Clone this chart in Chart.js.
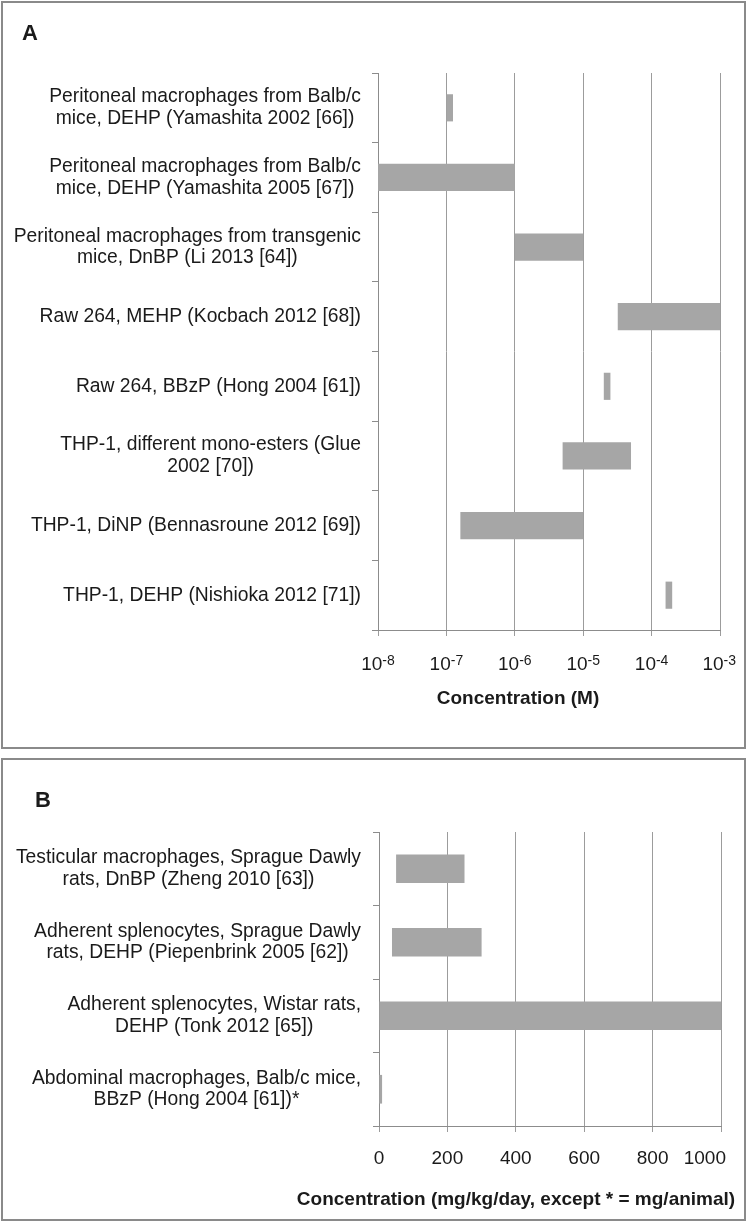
<!DOCTYPE html>
<html>
<head>
<meta charset="utf-8">
<script src="https://cdn.jsdelivr.net/npm/chart.js@4.4.1/dist/chart.umd.min.js"></script>
<style>
  body { margin: 0; background: #fff; }
  .box { position: absolute; left: 1px; width: 741px; border: 2px solid #8a8a8a; background: #fff; }
  #boxA { top: 1px; height: 744px; }
  #boxB { top: 758px; height: 459px; }
  canvas { display: block; }
</style>
</head>
<body>
<div class="box" id="boxA"><canvas id="chartA" width="741" height="744"></canvas></div>
<div class="box" id="boxB"><canvas id="chartB" width="741" height="459"></canvas></div>
<script>
// panel A - in vitro (M)
var labelsA = [
  ['Peritoneal macrophages from Balb/c', 'mice, DEHP (Yamashita 2002 [66])'],
  ['Peritoneal macrophages from Balb/c', 'mice, DEHP (Yamashita 2005 [67])'],
  ['Peritoneal macrophages from transgenic', 'mice, DnBP (Li 2013 [64])'],
  ['Raw 264, MEHP (Kocbach 2012 [68])'],
  ['Raw 264, BBzP (Hong 2004 [61])'],
  ['THP-1, different mono-esters (Glue', '2002 [70])'],
  ['THP-1, DiNP (Bennasroune 2012 [69])'],
  ['THP-1, DEHP (Nishioka 2012 [71])']
];
var lowA  = [1e-7, 1e-8, 1e-6, 3.2e-5, 2e-5, 5e-6, 1.6e-7, 1.6e-4];
var highA = [1.25e-7, 1e-6, 1e-5, 1e-3, 2.5e-5, 5e-5, 1e-5, 2e-4];
var xTicksA = [1e-8, 1e-7, 1e-6, 1e-5, 1e-4, 1e-3];
var tickExpA = ['-8', '-7', '-6', '-5', '-4', '-3'];

// panel B - in vivo
var labelsB = [
  ['Testicular macrophages, Sprague Dawly', 'rats, DnBP (Zheng 2010 [63])'],
  ['Adherent splenocytes, Sprague Dawly', 'rats, DEHP (Piepenbrink 2005 [62])'],
  ['Adherent splenocytes, Wistar rats,', 'DEHP (Tonk 2012 [65])'],
  ['Abdominal macrophages, Balb/c mice,', 'BBzP (Hong 2004 [61])*']
];
var lowB  = [50, 38, 0, 1];
var highB = [250, 300, 1000, 9];
var xTicksB = [0, 200, 400, 600, 800, 1000];
var tickLabelsB = ['0', '200', '400', '600', '800', '1000'];

var FONT = '"Liberation Sans", Arial, sans-serif';

// draws the excel-like texts (wrapped centred category labels, superscript ticks, titles)
var panelText = {
  id: 'panelText',
  afterDraw: function(chart, args, opts) {
    var ctx = chart.ctx;
    var xs = chart.scales.x, ys = chart.scales.y;
    var area = chart.chartArea;
    ctx.save();
    ctx.fillStyle = '#1a1a1a';

    ctx.font = 'bold 22px ' + FONT;
    ctx.textAlign = 'left';
    ctx.textBaseline = 'alphabetic';
    ctx.fillText(opts.letter, opts.letterX, opts.letterY);

    ctx.font = '19.3px ' + FONT;
    ctx.textAlign = 'center';
    ctx.textBaseline = 'middle';
    chart.data.labels.forEach(function(lines, i) {
      var yc = ys.getPixelForValue(i);
      var w = Math.max.apply(null, lines.map(function(l) { return ctx.measureText(l).width; }));
      var cx = opts.labelRight - w / 2;
      lines.forEach(function(l, k) {
        ctx.fillText(l, cx, yc + (k - (lines.length - 1) / 2) * 21.7);
      });
    });

    ctx.textBaseline = 'alphabetic';
    ctx.textAlign = 'left';
    var base = area.bottom + opts.tickDy;
    xs.ticks.forEach(function(t, i) {
      var px = xs.getPixelForValue(t.value);
      var w1, w2 = 0, main, sup = '';
      if (opts.tickExp) { main = '10'; sup = opts.tickExp[i]; }
      else { main = opts.tickLabels[i]; }
      ctx.font = '19px ' + FONT;
      w1 = ctx.measureText(main).width;
      if (sup) { ctx.font = '14px ' + FONT; w2 = ctx.measureText(sup).width; }
      // keep the last label inside the frame like excel does
      var x0 = Math.min(px - (w1 + w2) / 2, opts.maxRight - (w1 + w2));
      ctx.font = '19px ' + FONT;
      ctx.fillText(main, x0, base);
      if (sup) {
        ctx.font = '14px ' + FONT;
        ctx.fillText(sup, x0 + w1, base - 5);
      }
    });

    ctx.font = 'bold 19px ' + FONT;
    ctx.textAlign = 'center';
    ctx.fillText(opts.title, opts.titleX, area.bottom + opts.titleDy);
    ctx.restore();
  }
};

function makeChart(id, labels, low, high, xScale, yWidth, xHeight, pad, textOpts) {
  return new Chart(document.getElementById(id), {
    type: 'bar',
    data: {
      labels: labels,
      datasets: [{
        data: low.map(function(v, i) { return [v, high[i]]; }),
        backgroundColor: '#a6a6a6',
        borderWidth: 0,
        barPercentage: 0.39,
        categoryPercentage: 1
      }]
    },
    options: {
      indexAxis: 'y',
      responsive: false,
      animation: false,
      devicePixelRatio: 1,
      layout: { padding: pad },
      plugins: {
        legend: { display: false },
        tooltip: { enabled: false },
        panelText: textOpts
      },
      scales: {
        x: Object.assign({
          afterFit: function(s) { s.height = xHeight; },
          ticks: { display: false },
          grid: { color: '#9c9c9c', lineWidth: 1, tickLength: 6 },
          border: { color: '#8c8c8c' }
        }, xScale),
        y: {
          type: 'category',
          afterFit: function(s) { s.width = yWidth; },
          ticks: { display: false },
          grid: { drawOnChartArea: false, offset: true, tickLength: 6, color: '#8c8c8c' },
          border: { color: '#8c8c8c' }
        }
      }
    },
    plugins: [panelText]
  });
}

makeChart('chartA', labelsA, lowA, highA, {
  type: 'logarithmic', min: 1e-8, max: 1e-3,
  afterBuildTicks: function(s) { s.ticks = xTicksA.map(function(v) { return { value: v }; }); }
}, 375, 117, { top: 70, right: 24, left: 0, bottom: 0 }, {
  letter: 'A', letterX: 19, letterY: 37,
  labelRight: 358,
  tickDy: 40, tickExp: tickExpA, maxRight: 733,
  title: 'Concentration (M)', titleX: 515, titleDy: 74
});

makeChart('chartB', labelsB, lowB, highB, {
  type: 'linear', min: 0, max: 1000,
  afterBuildTicks: function(s) { s.ticks = xTicksB.map(function(v) { return { value: v }; }); }
}, 376, 93, { top: 72, right: 23, left: 0, bottom: 0 }, {
  letter: 'B', letterX: 32, letterY: 47,
  labelRight: 358,
  tickDy: 38, tickLabels: tickLabelsB, maxRight: 723,
  title: 'Concentration (mg/kg/day, except * = mg/animal)', titleX: 513, titleDy: 79
});
</script>
</body>
</html>
